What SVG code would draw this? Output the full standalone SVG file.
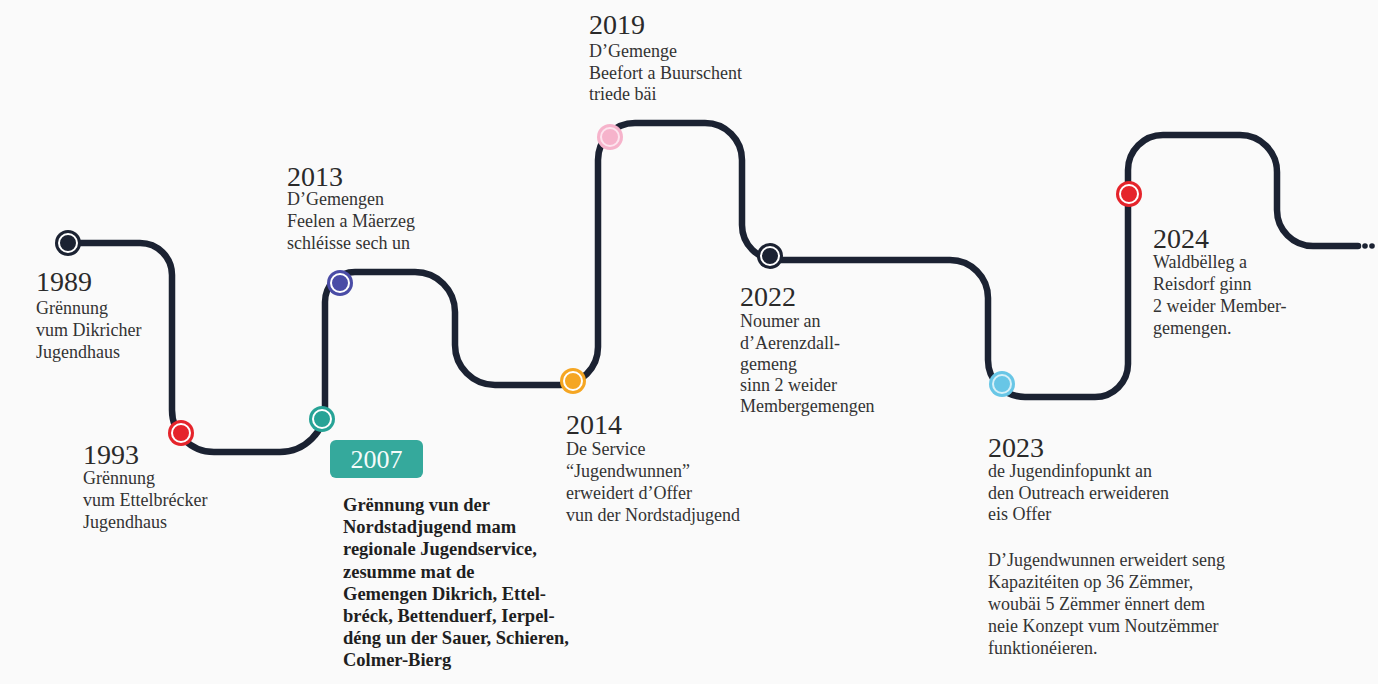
<svg xmlns="http://www.w3.org/2000/svg" width="1378" height="684" viewBox="0 0 1378 684">
<style>
.yr{font-family:"Liberation Serif","Times New Roman",serif;font-size:28px;fill:#2a2a2a}
.tx{font-family:"Liberation Serif","Times New Roman",serif;font-size:18px;fill:#333}
.bd{font-family:"Liberation Serif","Times New Roman",serif;font-size:18.5px;font-weight:bold;fill:#1f1f1f}
.ring{fill:none;stroke:#fff;stroke-width:2}
</style>
<rect width="1378" height="684" fill="#fafafa"/>
<g id="connectors">
<path d="M 68 243 H 140 A 32 32 0 0 1 172 275 V 410 A 42 42 0 0 0 214 452 H 280 A 45 45 0 0 0 325 407 V 302 A 30 30 0 0 1 355 272 H 415 A 40 40 0 0 1 455 312 V 345 A 40 40 0 0 0 495 385 H 560 A 38 38 0 0 0 598 347 V 160 A 37 37 0 0 1 635 123 H 705 A 37 37 0 0 1 742 160 V 225 A 35 35 0 0 0 777 260 H 950 A 38 38 0 0 1 988 298 V 360 A 37 37 0 0 0 1025 397 H 1095 A 33 33 0 0 0 1128 364 V 170 A 35 35 0 0 1 1163 135 H 1240 A 37 37 0 0 1 1277 172 V 210 A 36 36 0 0 0 1313 246 H 1358" fill="none" stroke="#1b2232" stroke-width="6.5" stroke-linecap="round"/>
<circle cx="1365" cy="246" r="2.8" fill="#1b2232"/>
<circle cx="1372" cy="246" r="2.8" fill="#1b2232"/>
</g>
<g id="n1989">
<circle cx="68" cy="243" r="13" fill="#1b2232"/><circle cx="68" cy="243" r="9" class="ring"/>
<text class="yr" x="36" y="291">1989</text>
<text class="tx" x="36" y="314">Grënnung</text>
<text class="tx" x="36" y="336">vum Dikricher</text>
<text class="tx" x="36" y="358">Jugendhaus</text>
</g>
<g id="n1993">
<circle cx="181" cy="433" r="13" fill="#e5242b"/><circle cx="181" cy="433" r="9" class="ring"/>
<text class="yr" x="83" y="464">1993</text>
<text class="tx" x="83" y="484">Grënnung</text>
<text class="tx" x="83" y="506">vum Ettelbrécker</text>
<text class="tx" x="83" y="528">Jugendhaus</text>
</g>
<g id="n2007">
<circle cx="322" cy="419" r="13" fill="#27a396"/><circle cx="322" cy="419" r="9" class="ring"/>
<rect x="330" y="440" width="93" height="38" rx="6" fill="#35a99c"/>
<text x="376.5" y="468" text-anchor="middle" font-family="Liberation Serif, serif" font-size="26" fill="#f4fbfa">2007</text>
<text class="bd" x="343" y="511">Grënnung vun der</text>
<text class="bd" x="343" y="533">Nordstadjugend mam</text>
<text class="bd" x="343" y="555">regionale Jugendservice,</text>
<text class="bd" x="343" y="578">zesumme mat de</text>
<text class="bd" x="343" y="600">Gemengen Dikrich, Ettel-</text>
<text class="bd" x="343" y="622">bréck, Bettenduerf, Ierpel-</text>
<text class="bd" x="343" y="644">déng un der Sauer, Schieren,</text>
<text class="bd" x="343" y="666">Colmer-Bierg</text>
</g>
<g id="n2013">
<circle cx="340" cy="283" r="13" fill="#4a4ca6"/><circle cx="340" cy="283" r="9" class="ring"/>
<text class="yr" x="287" y="186">2013</text>
<text class="tx" x="287" y="205">D’Gemengen</text>
<text class="tx" x="287" y="227">Feelen a Mäerzeg</text>
<text class="tx" x="287" y="249">schléisse sech un</text>
</g>
<g id="n2014">
<circle cx="573" cy="381" r="13" fill="#f5a623"/><circle cx="573" cy="381" r="9" class="ring"/>
<text class="yr" x="566" y="434">2014</text>
<text class="tx" x="566" y="455">De Service</text>
<text class="tx" x="566" y="477">“Jugendwunnen”</text>
<text class="tx" x="566" y="499">erweidert d’Offer</text>
<text class="tx" x="566" y="521">vun der Nordstadjugend</text>
</g>
<g id="n2019">
<circle cx="610" cy="137" r="13" fill="#f6b3cb"/><circle cx="610" cy="137" r="9" fill="none" stroke="#fde4ee" stroke-width="2"/>
<text class="yr" x="589" y="34">2019</text>
<text class="tx" x="589" y="57">D’Gemenge</text>
<text class="tx" x="589" y="79">Beefort a Buurschent</text>
<text class="tx" x="589" y="100">triede bäi</text>
</g>
<g id="n2022">
<circle cx="770" cy="256" r="13" fill="#1b2232"/><circle cx="770" cy="256" r="9" class="ring"/>
<text class="yr" x="740" y="306">2022</text>
<text class="tx" x="740" y="327">Noumer an</text>
<text class="tx" x="740" y="349">d’Aerenzdall-</text>
<text class="tx" x="740" y="370">gemeng</text>
<text class="tx" x="740" y="391">sinn 2 weider</text>
<text class="tx" x="740" y="412">Membergemengen</text>
</g>
<g id="n2023">
<circle cx="1002" cy="384" r="13" fill="#68c6e6"/><circle cx="1002" cy="384" r="9" fill="none" stroke="#d6f0f8" stroke-width="2"/>
<text class="yr" x="988" y="457">2023</text>
<text class="tx" x="988" y="477">de Jugendinfopunkt an</text>
<text class="tx" x="988" y="499">den Outreach erweideren</text>
<text class="tx" x="988" y="520">eis Offer</text>
<text class="tx" x="988" y="566">D’Jugendwunnen erweidert seng</text>
<text class="tx" x="988" y="588">Kapazitéiten op 36 Zëmmer,</text>
<text class="tx" x="988" y="610">woubäi 5 Zëmmer ënnert dem</text>
<text class="tx" x="988" y="632">neie Konzept vum Noutzëmmer</text>
<text class="tx" x="988" y="654">funktionéieren.</text>
</g>
<g id="n2024">
<circle cx="1129" cy="194" r="13" fill="#e5242b"/><circle cx="1129" cy="194" r="9" class="ring"/>
<text class="yr" x="1153" y="248">2024</text>
<text class="tx" x="1153" y="268">Waldbëlleg a</text>
<text class="tx" x="1153" y="290">Reisdorf ginn</text>
<text class="tx" x="1153" y="312">2 weider Member-</text>
<text class="tx" x="1153" y="334">gemengen.</text>
</g>
</svg>
